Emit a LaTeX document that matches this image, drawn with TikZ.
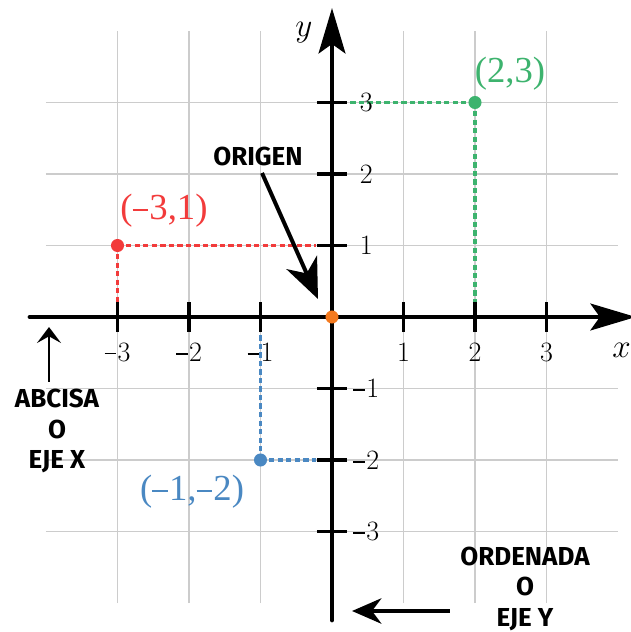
\documentclass[tikz,border=0pt]{standalone}
\usepackage{fontspec}
\newfontfamily\labfont{Fira Sans}
\newfontfamily\ptfont{Liberation Serif}
\usetikzlibrary{arrows.meta}
\definecolor{gridgray}{HTML}{CCCCCC}
\definecolor{ptred}{HTML}{F23B3B}
\definecolor{ptgreen}{HTML}{3DB36E}
\definecolor{ptblue}{HTML}{4A88C2}
\definecolor{ptorange}{HTML}{F47A1F}
\newcommand\mneg{\rule[0.24em]{0.42em}{0.055em}\kern0.04em}
\begin{document}
\begin{tikzpicture}[x=53.625pt,y=53.625pt,
  gridline/.style={gridgray, line width=1.1pt},
  axisline/.style={line width=3.6pt, line cap=round, -{Stealth[length=34pt,width=20pt,inset=7pt]}},
  tickline/.style={line width=2.6pt},
  guide/.style={line width=2.5pt, dash pattern=on 4pt off 2.4pt},
  dot/.style={circle, inner sep=0pt, minimum size=9.8pt},
  ticklab/.style={font=\fontsize{21}{25}\selectfont, inner sep=0pt},
  ptlab/.style={font=\ptfont\fontsize{27.5}{32}\selectfont, inner sep=0pt},
  note/.style={font=\labfont\bfseries\fontsize{19.5}{23}\selectfont, align=center, inner sep=0pt},
  axlab/.style={font=\fontsize{26}{30}\selectfont, inner sep=0pt},
  ]
\useasboundingbox (-4.6434,-4.4056) rectangle (4.1818,4.4336);
% grid
\foreach \i in {-3,...,3} {
  \draw[gridline] (\i,-4) -- (\i,4);
  \draw[gridline] (-4,\i) -- (4,\i);
}
% point coordinates
\coordinate (P1) at (-3,1);
\coordinate (P2) at (2,3);
\coordinate (P3) at (-1,-2);
\coordinate (O) at (0,0);
% guide lines
\coordinate (P1h) at (-0.22,1);
\coordinate (P1v) at (-3,0.2);
\coordinate (P2h) at (0.24,3);
\coordinate (P2v) at (2,0.2);
\coordinate (P3h) at (-0.22,-2);
\coordinate (P3v) at (-1,-0.2);
\draw[guide, ptred] (P1) -- (P1h);
\draw[guide, ptred] (P1) -- (P1v);
\draw[guide, ptgreen] (P2) -- (P2h);
\draw[guide, ptgreen] (P2) -- (P2v);
\draw[guide, ptblue] (P3) -- (P3h);
\draw[guide, ptblue] (P3) -- (P3v);
% axes
\coordinate (xs) at (-4.224,0);
\coordinate (xe) at (4.25,0);
\coordinate (ys) at (0,-4.238);
\coordinate (ye) at (0,4.322);
\draw[axisline] (xs) -- (xe);
\draw[axisline] (ys) -- (ye);
% ticks and labels
\foreach \i/\t/\n in {-3/\mneg3/m3,-2/\mneg2/m2,-1/\mneg1/m1,1/1/p1,2/2/p2,3/3/p3} {
  \draw[tickline] (\i,-0.21) -- (\i,0.21);
  \draw[tickline] (-0.21,\i) -- (0.21,\i);
  \node[ticklab] (xl\n) at (\i,-0.49) {\t};
  \node[ticklab] (yl\n) at (0.48,\i) {\t};
}
\node[axlab] (xlab) at (4.05,-0.462) {$x$};
\node[axlab] (ylab) at (-0.392,3.972) {$y$};
% points
\node[dot, fill=ptred] (d1) at (P1) {};
\node[dot, fill=ptgreen] (d2) at (P2) {};
\node[dot, fill=ptblue] (d3) at (P3) {};
\node[dot, fill=ptorange] (d0) at (O) {};
\node[ptlab, text=ptgreen] (l2) at (2.490,3.399) {(2,3)};
\node[ptlab, text=ptred] (l1) at (-2.350,1.483) {(\mneg3,1)};
\node[ptlab, text=ptblue] (l3) at (-1.958,-2.448) {(\mneg1,\mneg2)};
% notes
\node[note] (origen) at (-1.035,2.238) {ORIGEN};
\node[note] (abcisa) at (-3.846,-1.594) {ABCISA\\O\\EJE X};
\node[note] (ordenada) at (2.699,-3.80) {ORDENADA\\O\\EJE Y};
\coordinate (og1) at (-0.979,2.014);
\coordinate (og2) at (-0.196,0.252);
\coordinate (ab1) at (-3.958,-0.909);
\coordinate (ab2) at (-3.958,-0.140);
\coordinate (or1) at (1.650,-4.112);
\coordinate (or2) at (0.280,-4.112);
\draw[line width=3pt, -{Stealth[length=30pt,width=25pt,inset=9pt]}] (og1) -- (og2);
\draw[line width=2.2pt, -{Stealth[length=12pt,width=18pt,inset=5pt]}] (ab1) -- (ab2);
\draw[line width=3pt, -{Stealth[length=22pt,width=19pt,inset=7pt]}] (or1) -- (or2);
\end{tikzpicture}
\end{document}
